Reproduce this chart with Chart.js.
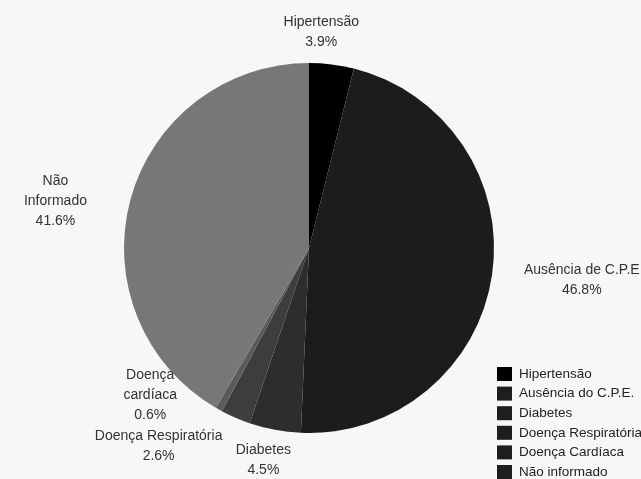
<!DOCTYPE html>
<html>
<head>
<meta charset="utf-8">
<script src="https://cdn.jsdelivr.net/npm/chart.js@4.4.0/dist/chart.umd.min.js"></script>
<style>
html,body{margin:0;padding:0;background:#f7f7f7;}
#wrap{width:641px;height:479px;position:relative;}
</style>
</head>
<body>
<div id="wrap"><canvas id="c" width="641" height="479"></canvas></div>
<script>
// Data
const categories = ['Hipertensão', 'Ausência de C.P.E', 'Diabetes', 'Doença Respiratória', 'Doença cardíaca', 'Não informado'];
const values = [3.9, 46.8, 4.5, 2.6, 0.6, 41.6];
const sliceLabels = [['Hipertensão'], ['Ausência de C.P.E'], ['Diabetes'], ['Doença Respiratória'], ['Doença', 'cardíaca'], ['Não', 'Informado']];
const legendLabels = ['Hipertensão', 'Ausência do C.P.E.', 'Diabetes', 'Doença Respiratória', 'Doença Cardíaca', 'Não informado'];

// Styles
const sliceColors = ['#000000', '#1c1c1c', '#2d2d2d', '#3d3d3d', '#5a5a5a', '#777777'];
const legendColors = ['#000000', '#1e1e1e', '#1e1e1e', '#1e1e1e', '#1e1e1e', '#1e1e1e'];
const labelNudge = [[-14, -2], [60, 1], [-6, 1], [-65, 1], [-54, -41], [-46, 9]];
const FONT = '"Liberation Sans", Arial, sans-serif';

const labelPlugin = {
  id: 'outLabels',
  afterDatasetsDraw(chart) {
    const ctx = chart.ctx;
    const meta = chart.getDatasetMeta(0);
    ctx.save();
    ctx.font = '14px ' + FONT;
    ctx.fillStyle = '#333333';
    ctx.textAlign = 'center';
    ctx.textBaseline = 'middle';
    const lh = 20;
    meta.data.forEach((arc, i) => {
      const p = arc.getProps(['x', 'y', 'startAngle', 'endAngle', 'outerRadius'], true);
      const mid = (p.startAngle + p.endAngle) / 2;
      const d = p.outerRadius + 30;
      const cx = p.x + Math.cos(mid) * d + labelNudge[i][0];
      const cy = p.y + Math.sin(mid) * d + labelNudge[i][1];
      const lines = sliceLabels[i].concat([values[i].toFixed(1) + '%']);
      const y0 = cy - (lines.length - 1) * lh / 2;
      lines.forEach((t, k) => ctx.fillText(t, cx, y0 + k * lh));
    });
    // legend
    ctx.textAlign = 'left';
    ctx.font = '13.5px ' + FONT;
    const lx = 497, ly = 374, step = 19.6;
    legendLabels.forEach((t, i) => {
      const y = ly + i * step;
      ctx.fillStyle = legendColors[i];
      ctx.fillRect(lx, y - 7, 15, 14);
      ctx.fillStyle = '#222222';
      ctx.fillText(t, lx + 22, y);
    });
    ctx.restore();
  }
};

new Chart(document.getElementById('c'), {
  type: 'pie',
  data: {
    labels: categories,
    datasets: [{
      data: values,
      backgroundColor: sliceColors,
      borderWidth: 0
    }]
  },
  options: {
    responsive: false,
    animation: false,
    layout: { padding: { top: 63, bottom: 46, left: 0, right: 23 } },
    plugins: { legend: { display: false }, tooltip: { enabled: false } }
  },
  plugins: [labelPlugin]
});
</script>
</body>
</html>
